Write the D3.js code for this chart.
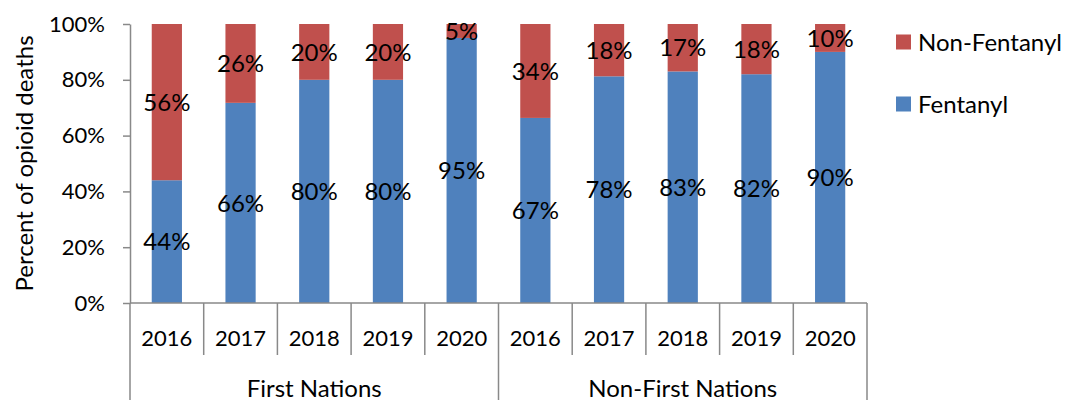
<!DOCTYPE html>
<html>
<head>
<meta charset="utf-8">
<script src="https://cdn.jsdelivr.net/npm/d3@7"></script>
<style>
  body { margin: 0; background: #fff; }
  svg text { font-family: Lato, "DejaVu Sans", sans-serif; fill: #000; }
</style>
</head>
<body>
<svg id="chart" width="1065" height="400"></svg>
<script>
var years = ["2016", "2017", "2018", "2019", "2020"];
var groups = ["First Nations", "Non-First Nations"];
var fentanyl = [44, 66, 80, 80, 95, 67, 78, 83, 82, 90];
var nonFentanyl = [56, 26, 20, 20, 5, 34, 18, 17, 18, 10];
var yTicks = [0, 0.2, 0.4, 0.6, 0.8, 1];
var seriesNames = ["Fentanyl", "Non-Fentanyl"];
var seriesColors = ["#4f81bd", "#c0504d"];

var margin = { top: 24, left: 130, right: 198, bottom: 97 };
var width = 1065, height = 400;
var axisColor = "#898989";

var svg = d3.select("#chart");

// one row per bar: group + year
var rows = [];
groups.forEach(function(g, gi) {
  years.forEach(function(yr, yi) {
    var i = gi * years.length + yi;
    rows.push({ key: g + "|" + yr, group: g, year: yr, Fentanyl: fentanyl[i], "Non-Fentanyl": nonFentanyl[i] });
  });
});

var x = d3.scaleBand()
  .domain(rows.map(d => d.key))
  .range([margin.left, width - margin.right])
  .paddingInner(0.59)
  .paddingOuter(0.295);

var y = d3.scaleLinear()
  .domain([0, 1])
  .range([height - margin.bottom, margin.top]);

// bars sum to 100% like the original
var stacked = d3.stack().keys(seriesNames).offset(d3.stackOffsetExpand)(rows);

var layers = svg.append("g")
  .selectAll("g")
  .data(stacked)
  .enter()
  .append("g")
  .attr("fill", (d, i) => seriesColors[i]);

layers.selectAll("rect")
  .data(d => d)
  .enter()
  .append("rect")
  .attr("x", d => x(d.data.key))
  .attr("width", x.bandwidth())
  .attr("y", d => y(d[1]))
  .attr("height", d => y(d[0]) - y(d[1]));

// data labels
stacked.forEach(function(layer) {
  svg.append("g")
    .selectAll("text")
    .data(layer)
    .enter()
    .append("text")
    .attr("x", d => x(d.data.key) + x.bandwidth() / 2)
    .attr("y", d => y((d[0] + d[1]) / 2))
    .attr("dy", "0.36em")
    .attr("text-anchor", "middle")
    .style("font-size", "24px")
    .text(d => d.data[layer.key] + "%");
});

// y axis
var yAxis = svg.append("g")
  .attr("transform", `translate(${margin.left},0)`)
  .call(d3.axisLeft(y)
    .tickValues(yTicks)
    .tickFormat(d3.format(".0%"))
    .tickSize(7)
    .tickSizeOuter(0)
    .tickPadding(18));
yAxis.select(".domain").attr("stroke", axisColor).attr("stroke-width", 1.5);
yAxis.selectAll(".tick line").attr("stroke", axisColor).attr("stroke-width", 1.5);
yAxis.selectAll(".tick text").style("font-size", "22px").attr("font-family", null);

// x axis line
var plotBottom = y(0);
svg.append("line")
  .attr("x1", margin.left).attr("x2", width - margin.right)
  .attr("y1", plotBottom).attr("y2", plotBottom)
  .attr("stroke", axisColor).attr("stroke-width", 1.5);

// year labels
var xAxis = svg.append("g")
  .attr("transform", `translate(0,${plotBottom})`)
  .call(d3.axisBottom(x).tickSize(0).tickPadding(0).tickFormat(k => k.split("|")[1]));
xAxis.select(".domain").remove();
xAxis.selectAll(".tick text")
  .attr("y", 43)
  .attr("dy", null)
  .attr("font-family", null)
  .style("font-size", "22px");

// category separators
var x0 = x.range()[0];
var step = x.step();
d3.range(rows.length + 1).forEach(function(i) {
  var isGroupEdge = i % years.length === 0;
  svg.append("line")
    .attr("x1", x0 + i * step).attr("x2", x0 + i * step)
    .attr("y1", plotBottom).attr("y2", isGroupEdge ? height : plotBottom + 52)
    .attr("stroke", axisColor).attr("stroke-width", 1.5);
});

// group labels
groups.forEach(function(g, gi) {
  var left = x0 + gi * years.length * step;
  svg.append("text")
    .attr("x", left + years.length * step / 2)
    .attr("y", 397)
    .attr("text-anchor", "middle")
    .style("font-size", "24px")
    .text(g);
});

// y axis title
svg.append("text")
  .attr("transform", `translate(33,${(margin.top + plotBottom) / 2}) rotate(-90)`)
  .attr("text-anchor", "middle")
  .style("font-size", "24px")
  .text("Percent of opioid deaths");

// legend (Non-Fentanyl on top)
var legendItems = seriesNames.slice().reverse();
var legend = svg.append("g")
  .selectAll("g")
  .data(legendItems)
  .enter()
  .append("g")
  .attr("transform", (d, i) => `translate(896,${42 + i * 62})`);

legend.append("rect")
  .attr("x", 0).attr("y", -7.5)
  .attr("width", 15).attr("height", 15)
  .attr("fill", d => seriesColors[seriesNames.indexOf(d)]);

legend.append("text")
  .attr("x", 22)
  .attr("dy", "0.36em")
  .style("font-size", "24px")
  .text(d => d);
</script>
</body>
</html>
